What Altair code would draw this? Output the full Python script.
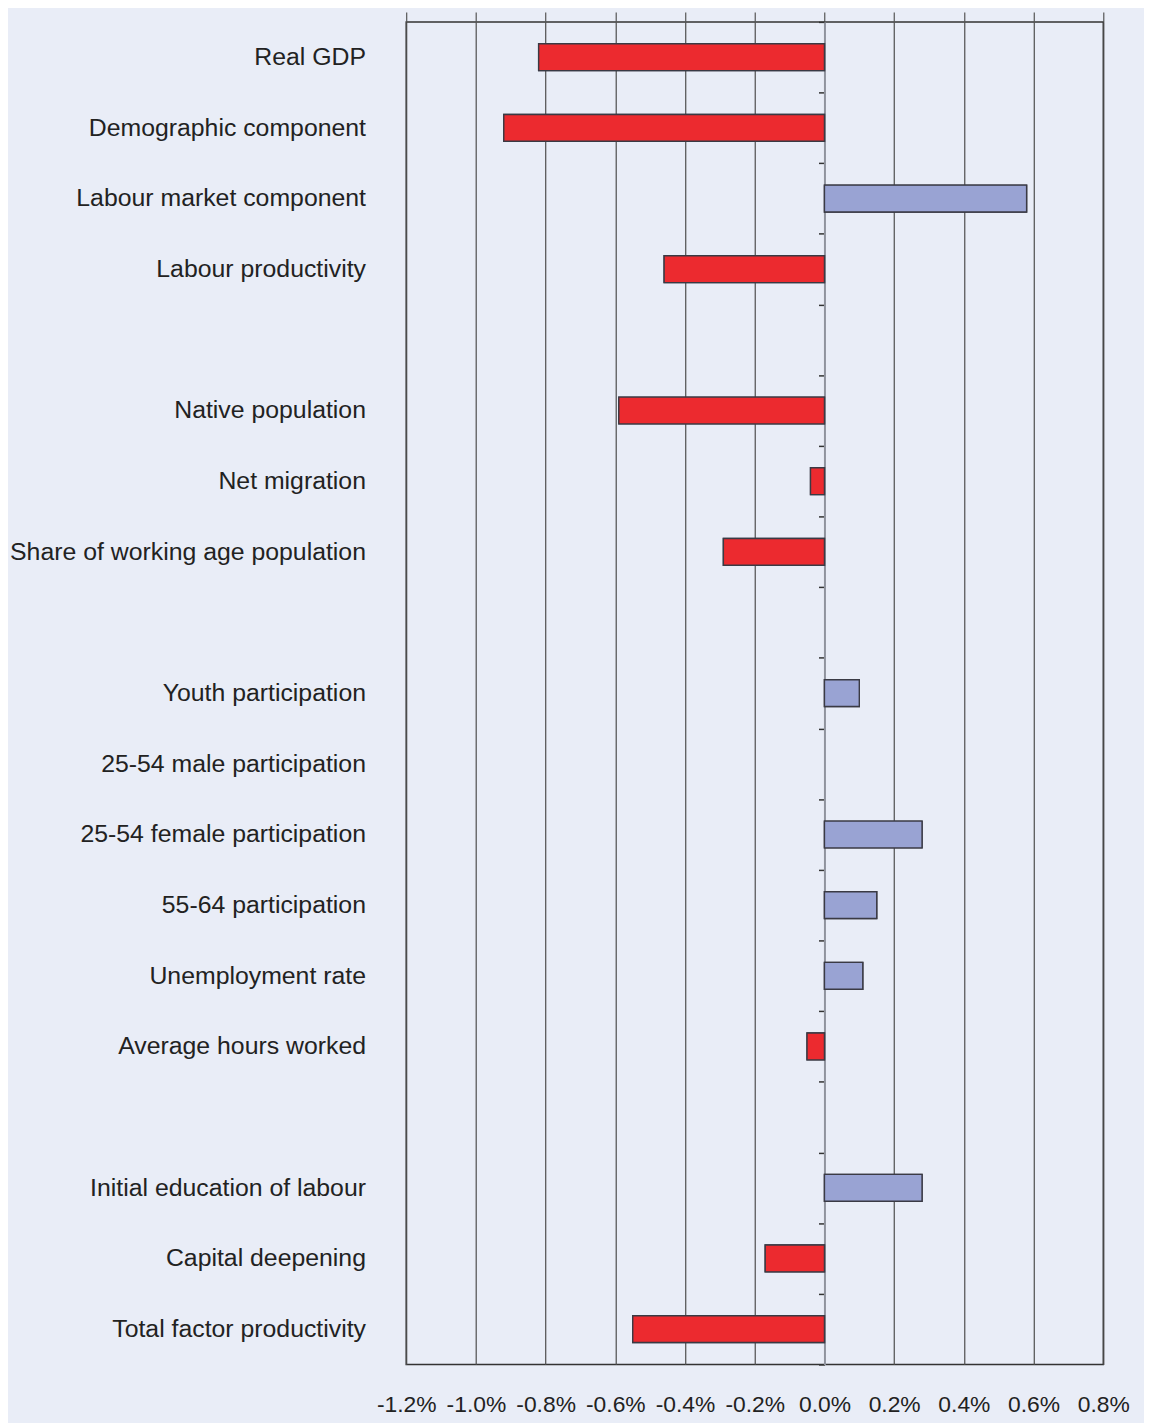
import altair as alt
import pandas as pd

# ---- data ----
categories = [
    "Real GDP", "Demographic component", "Labour market component", "Labour productivity", " ",
    "Native population", "Net migration", "Share of working age population", "  ",
    "Youth participation", "25-54 male participation", "25-54 female participation",
    "55-64 participation", "Unemployment rate", "Average hours worked", "   ",
    "Initial education of labour", "Capital deepening", "Total factor productivity",
]
values = [
    -0.82, -0.92, 0.58, -0.46, None,
    -0.59, -0.04, -0.29, None,
    0.10, 0.0, 0.28, 0.15, 0.11, -0.05, None,
    0.28, -0.17, -0.55,
]
x_ticks = [-1.2, -1.0, -0.8, -0.6, -0.4, -0.2, 0.0, 0.2, 0.4, 0.6, 0.8]

RED = "#ec2a2f"
BLUE = "#99a3d3"
BG = "#e9edf7"
FONT = "Liberation Sans"

df = pd.DataFrame({"category": categories, "value": values}).dropna()

xscale = alt.Scale(domain=[x_ticks[0], x_ticks[-1]], nice=False)
yscale = alt.Scale(domain=categories, paddingInner=0, paddingOuter=0)

label_expr = "replace(format(datum.value, '.1f'), '\u2212', '-') + '%'"

base = alt.Chart(df).mark_bar(size=27, stroke="#3a3a44", strokeWidth=1.4)

common = dict(
    x2=alt.datum(0),
    color=alt.condition("datum.value < 0", alt.value(RED), alt.value(BLUE)),
    strokeOpacity=alt.condition("datum.value == 0", alt.value(0), alt.value(1)),
)

layer_top = base.encode(
    x=alt.X(
        "value:Q", scale=xscale,
        axis=alt.Axis(
            orient="top", values=x_ticks, labels=False, ticks=True, tickSize=10,
            tickColor="#555555", tickWidth=1.2, domain=False, grid=True,
            gridColor=alt.condition("datum.value === 0", alt.value("transparent"), alt.value("#4d4d4d")),
            gridWidth=1.2, title=None, zindex=0,
        ),
    ),
    y=alt.Y(
        "category:N", scale=yscale, sort=None,
        axis=alt.Axis(
            orient="left", ticks=False, domain=False, grid=False, labelPadding=41,
            labelFontSize=25, labelFont=FONT, labelColor="#222222", labelLimit=0,
            labelOverlap=False, title=None, zindex=1,
        ),
    ),
    **common,
)

layer_bottom = base.encode(
    x=alt.X(
        "value:Q", scale=xscale,
        axis=alt.Axis(
            orient="bottom", values=x_ticks, labelExpr=label_expr, ticks=False,
            domain=False, grid=False, labelPadding=29, labelFontSize=23,
            labelFont=FONT, labelColor="#222222", labelOverlap=False,
            labelFlush=False, labelBound=False, title=None,
        ),
    ),
    y=alt.Y(
        "category:N", scale=yscale, sort=None,
        axis=alt.Axis(
            orient="left", offset=-421.2, labels=False, ticks=True, tickBand="extent",
            tickSize=6, tickColor="#333333", tickWidth=1.5, domain=True,
            domainColor="#8f939d", domainWidth=2, grid=False, title=None, zindex=0,
        ),
    ),
    **common,
)

chart = (
    alt.layer(layer_top, layer_bottom)
    .resolve_axis(x="independent", y="independent")
    .properties(
        width=702,
        height=1352,
        autosize=alt.AutoSizeParams(type="none"),
        padding={"left": 401, "top": 9, "right": 41, "bottom": 54},
    )
    .configure(background=BG)
    .configure_view(stroke="#333333", strokeWidth=1.5)
)

chart.save("out.html", embed_options={"renderer": "svg", "actions": False})
